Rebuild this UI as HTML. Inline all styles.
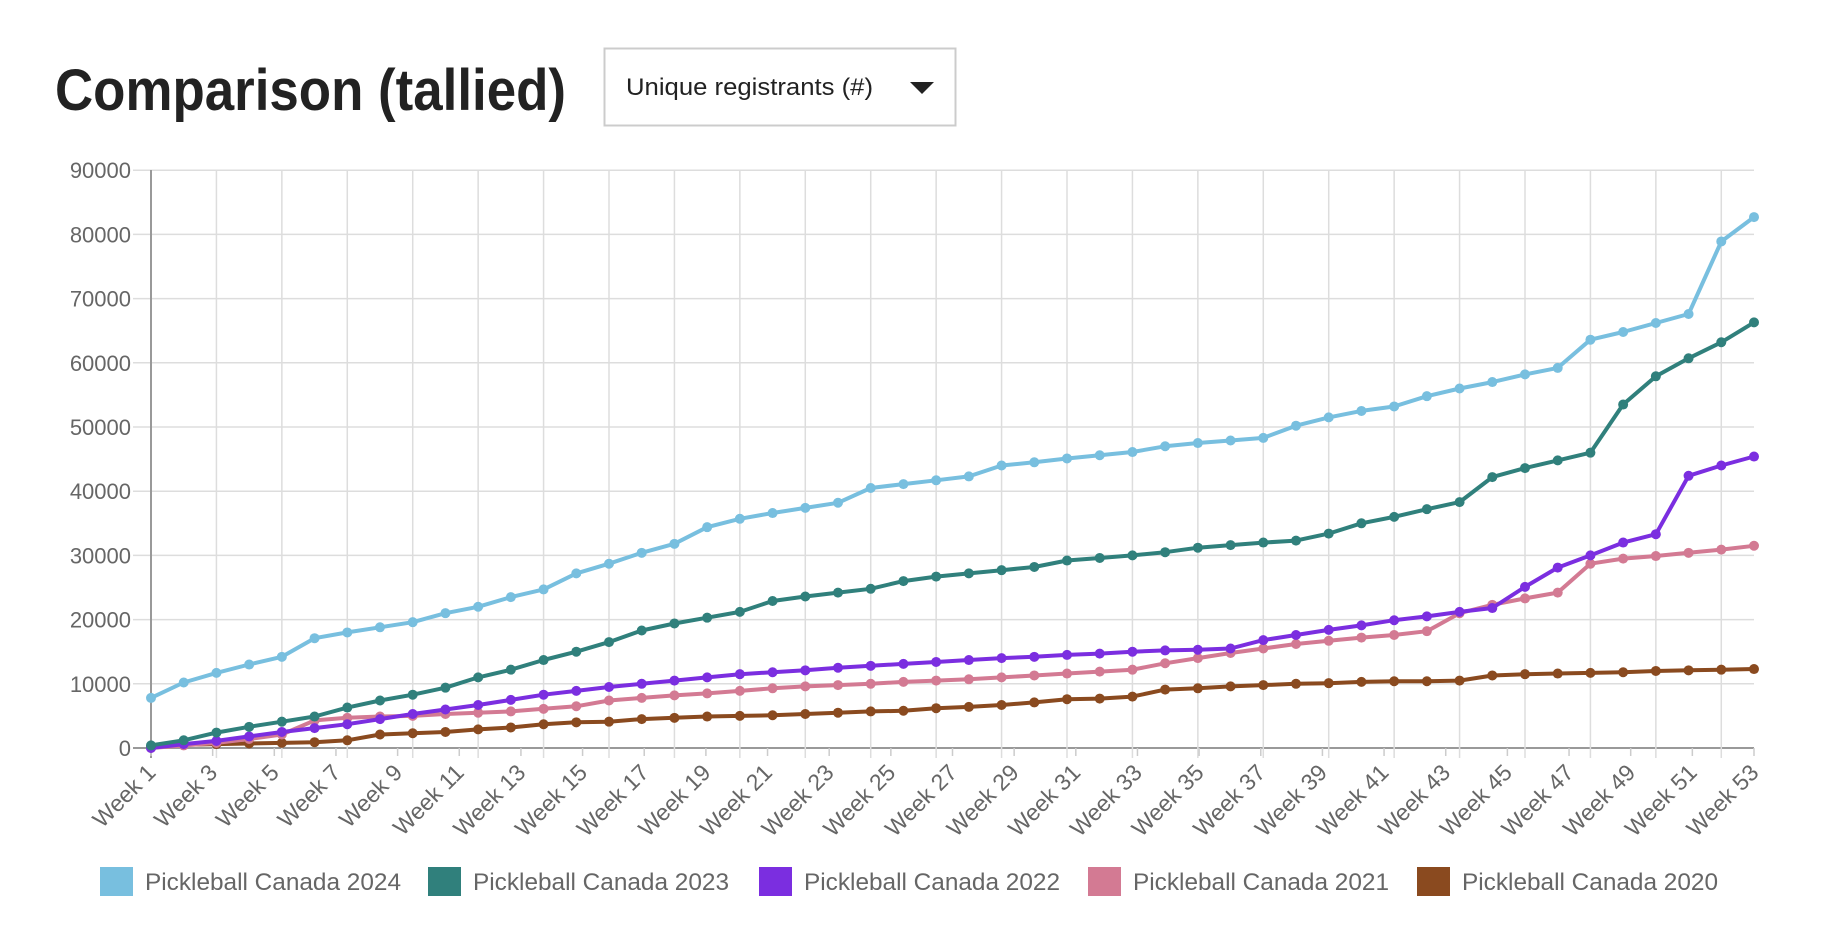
<!DOCTYPE html>
<html><head><meta charset="utf-8">
<style>
html,body{margin:0;padding:0;background:#fff;width:1825px;height:944px;overflow:hidden}
svg{display:block}
</style></head><body>
<svg id="s" width="1825" height="944" xmlns="http://www.w3.org/2000/svg" font-family="Liberation Sans, sans-serif">
<text x="55" y="110" font-size="58" font-weight="bold" fill="#222" textLength="511" lengthAdjust="spacingAndGlyphs">Comparison (tallied)</text>
<rect x="604.5" y="48.5" width="351" height="77" fill="#fff" stroke="#ccc" stroke-width="2"/>
<text x="626" y="95" font-size="24" fill="#222" textLength="247" lengthAdjust="spacingAndGlyphs">Unique registrants (#)</text>
<polygon points="910,82 934,82 922,94" fill="#222"/>
<g id="g"></g>
</svg>
<script>
const g=document.getElementById('g');let h='';
const X0=151,X1=1754,Y0=748,S=64.2/10000;
const y=v=>Y0-v*S;
for(let i=0;i<=9;i++){const yy=y(i*10000);
 h+=`<line x1="133" x2="${X1}" y1="${yy}" y2="${yy}" stroke="${i==0?'#999':'#ddd'}" stroke-width="${i==0?2:1.5}"/>`;
 h+=`<text x="131" y="${yy+8}" font-size="22" fill="#666" text-anchor="end">${i*10000}</text>`;}
const px=(X1-X0)/49;
for(let k=1;k<=24;k++){const xx=X0+k*2*px;h+=`<line x1="${xx}" x2="${xx}" y1="170" y2="758" stroke="#ddd" stroke-width="1.5"/>`;}
h+=`<line x1="${X0}" x2="${X0}" y1="170" y2="758" stroke="#999" stroke-width="2"/>`;
const wx=(X1-X0)/52;
for(let w=1;w<=53;w+=2){const xx=X0+(w-1)*wx;
 h+=`<line x1="${xx}" x2="${xx}" y1="748" y2="756" stroke="#ccc" stroke-width="1.5"/>`;
 h+=`<text transform="translate(${xx+6},774) rotate(-45)" font-size="23" fill="#666" text-anchor="end">Week ${w}</text>`;}
const D=[
["#2020",'#8a4a1f',[200,500,600,700,800,900,1200,2100,2300,2500,2900,3200,3700,4000,4100,4500,4700,4900,5000,5100,5300,5500,5700,5800,6200,6400,6700,7100,7600,7700,8000,9100,9300,9600,9800,10000,10100,10300,10400,10400,10500,11300,11500,11600,11700,11800,12000,12100,12200,12300]],
["2021",'#d37a93',[0,400,800,1400,2100,4300,4700,4900,5000,5300,5500,5700,6100,6500,7400,7800,8200,8500,8900,9300,9600,9800,10000,10300,10500,10700,11000,11300,11600,11900,12200,13200,14000,14800,15500,16200,16700,17200,17600,18200,21000,22300,23300,24200,28700,29500,29900,30400,30900,31500]],
["2022",'#7b2ee0',[0,600,1100,1800,2500,3100,3700,4500,5300,6000,6700,7500,8300,8900,9500,10000,10500,11000,11500,11800,12100,12500,12800,13100,13400,13700,14000,14200,14500,14700,15000,15200,15300,15500,16800,17600,18400,19100,19900,20500,21200,21800,25100,28100,30000,32000,33300,42400,44000,45400]],
["2023",'#30807c',[400,1200,2400,3300,4100,4900,6300,7400,8300,9400,11000,12200,13700,15000,16500,18300,19400,20300,21200,22900,23600,24200,24800,26000,26700,27200,27700,28200,29200,29600,30000,30500,31200,31600,32000,32300,33400,35000,36000,37200,38300,42200,43600,44800,46000,53500,57900,60700,63200,66300]],
["2024",'#78bfdf',[7800,10200,11700,13000,14200,17100,18000,18800,19600,21000,22000,23500,24700,27200,28700,30400,31800,34400,35700,36600,37400,38200,40500,41100,41700,42300,44000,44500,45100,45600,46100,47000,47500,47900,48300,50200,51500,52500,53200,54800,56000,57000,58200,59200,63600,64800,66200,67600,78900,82700]]];
for(const [n,c,v] of D){let p=v.map((a,i)=>`${(X0+i*px).toFixed(1)},${y(a).toFixed(1)}`).join(' ');
 h+=`<polyline points="${p}" fill="none" stroke="${c}" stroke-width="4" stroke-linejoin="round"/>`;
 v.forEach((a,i)=>h+=`<circle cx="${X0+i*px}" cy="${y(a)}" r="5" fill="${c}"/>`);}
const L=[[100,'#78bfdf','Pickleball Canada 2024'],[428,'#30807c','Pickleball Canada 2023'],[759,'#7b2ee0','Pickleball Canada 2022'],[1088,'#d37a93','Pickleball Canada  2021'],[1417,'#8a4a1f','Pickleball Canada  2020']];
for(const [x,c,t] of L){h+=`<rect x="${x}" y="867" width="33" height="29" fill="${c}"/><text x="${x+45}" y="890" font-size="24" fill="#666" textLength="256" lengthAdjust="spacingAndGlyphs">${t}</text>`;}
g.innerHTML=h;
</script>
</body></html>
